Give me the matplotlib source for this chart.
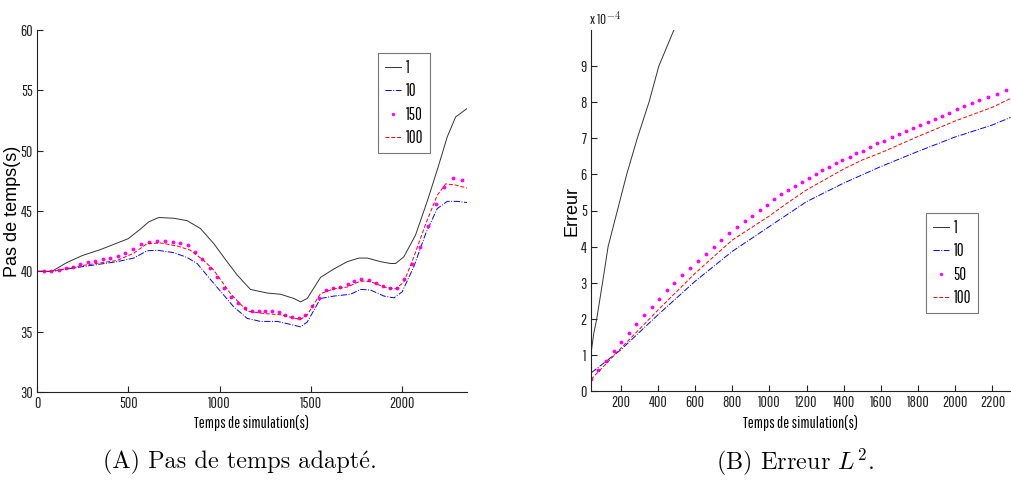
import matplotlib
matplotlib.use("Agg")
import matplotlib.pyplot as plt
from matplotlib import font_manager as fm
from matplotlib.font_manager import FontProperties
from matplotlib.textpath import TextPath

# ---------------- data: panel A (Pas de temps) ----------------
a_x_1 = [0, 82, 160, 247, 347, 448, 499, 566, 612, 667, 749, 822, 895, 968, 1041, 1096,
         1169, 1261, 1334, 1407, 1443, 1480, 1553, 1626, 1699, 1763, 1809, 1882, 1936,
         1964, 2009, 2073, 2137, 2192, 2247, 2293, 2356]
a_y_1 = [40.0, 40.0, 40.7, 41.3, 41.8, 42.4, 42.7, 43.5, 44.1, 44.46, 44.4, 44.2, 43.55,
         42.3, 40.8, 39.7, 38.5, 38.2, 38.1, 37.75, 37.47, 37.75, 39.5, 40.2, 40.8, 41.1,
         41.1, 40.8, 40.65, 40.65, 41.2, 43.0, 45.8, 48.4, 51.15, 52.8, 53.5]

a_x_10 = [0, 82, 256, 438, 530, 603, 658, 749, 822, 877, 968, 1078, 1151, 1224, 1316, 1389,
          1443, 1480, 1553, 1626, 1717, 1772, 1827, 1900, 1955, 2000, 2064, 2128, 2192, 2247,
          2302, 2356]
a_y_10 = [40.0, 40.0, 40.4, 40.8, 41.1, 41.7, 41.75, 41.55, 41.15, 40.65, 39.0, 37.05, 36.1,
          35.85, 35.85, 35.6, 35.4, 35.8, 37.75, 37.95, 38.1, 38.5, 38.45, 37.95, 37.8, 38.3,
          40.4, 43.1, 45.2, 45.8, 45.8, 45.7]

a_x_100 = [0, 82, 256, 438, 530, 603, 676, 768, 840, 913, 968, 1060, 1151, 1243, 1334, 1389,
           1443, 1480, 1553, 1626, 1699, 1772, 1827, 1900, 1964, 2009, 2064, 2128, 2192, 2238,
           2293, 2356]
a_y_100 = [40.0, 40.0, 40.5, 40.9, 41.5, 42.3, 42.35, 42.1, 41.75, 40.9, 40.1, 38.15, 36.7,
           36.5, 36.4, 36.2, 36.0, 36.4, 38.15, 38.55, 38.7, 39.2, 39.15, 38.7, 38.55, 39.1,
           41.2, 43.9, 46.3, 47.25, 47.15, 46.9]

a_x_150 = [36, 77, 118, 159, 197, 237, 279, 319, 361, 401, 443, 484, 526, 569, 611, 655, 699,
           743, 783, 825, 867, 906, 949, 986, 1026, 1064, 1101, 1141, 1177, 1214, 1250, 1287,
           1323, 1360, 1396, 1433, 1469, 1506, 1546, 1584, 1621, 1661, 1701, 1738, 1776, 1820,
           1858, 1895, 1931, 1972, 2012, 2054, 2095, 2139, 2185, 2231, 2280, 2328]
a_y_150 = [40.0, 40.0, 40.1, 40.27, 40.38, 40.6, 40.74, 40.85, 40.99, 41.09, 41.26, 41.48,
           41.84, 42.26, 42.45, 42.53, 42.48, 42.4, 42.31, 42.17, 41.62, 41.04, 40.29, 39.49,
           38.63, 37.89, 37.34, 36.92, 36.73, 36.7, 36.7, 36.7, 36.64, 36.42, 36.23, 36.14,
           36.37, 37.11, 37.83, 38.44, 38.6, 38.72, 38.91, 39.19, 39.33, 39.27, 39.0, 38.8,
           38.66, 38.66, 39.35, 40.57, 42.03, 43.75, 45.55, 47.01, 47.7, 47.56]

a_xticks = [0, 500, 1000, 1500, 2000]
a_yticks = [30, 35, 40, 45, 50, 55, 60]
a_labels = ["1", "10", "150", "100"]

# ---------------- data: panel B (Erreur, x 1e-4) ----------------
b_x_1 = [43, 55, 71, 102, 132, 182, 232, 289, 352, 405, 486]
b_y_1 = [1.15, 1.6, 2.0, 3.0, 4.0, 5.0, 6.0, 7.0, 8.0, 9.0, 10.0]

b_x_10 = [43, 200, 398, 598, 798, 998, 1198, 1396, 1596, 1796, 1996, 2200, 2298]
b_y_10 = [0.51, 1.14, 2.1, 3.03, 3.86, 4.55, 5.24, 5.75, 6.21, 6.63, 7.03, 7.37, 7.58]

b_x_100 = [40, 200, 400, 600, 800, 1000, 1100, 1200, 1400, 1500, 1600, 1800, 2000, 2200, 2300]
b_y_100 = [0.32, 1.18, 2.24, 3.26, 4.18, 4.85, 5.22, 5.57, 6.15, 6.4, 6.6, 7.05, 7.48, 7.86, 8.11]

b_x_50 = [39, 80, 123, 164, 204, 245, 284, 325, 366, 407, 448, 489, 530, 571, 614, 657, 700,
          741, 784, 825, 868, 907, 948, 989, 1027, 1064, 1102, 1139, 1175, 1213, 1250, 1284,
          1320, 1357, 1393, 1431, 1468, 1504, 1539, 1578, 1618, 1657, 1696, 1736, 1775, 1813,
          1854, 1893, 1929, 1968, 2007, 2048, 2090, 2130, 2177, 2225, 2272]
b_y_50 = [0.32, 0.58, 0.83, 1.11, 1.37, 1.62, 1.86, 2.11, 2.33, 2.55, 2.79, 2.99, 3.2, 3.41,
          3.61, 3.8, 4.0, 4.18, 4.37, 4.53, 4.71, 4.86, 5.01, 5.16, 5.31, 5.45, 5.56, 5.68, 5.8,
          5.91, 6.01, 6.11, 6.21, 6.31, 6.4, 6.49, 6.58, 6.66, 6.77, 6.86, 6.93, 7.03, 7.12,
          7.19, 7.29, 7.37, 7.46, 7.53, 7.63, 7.71, 7.8, 7.89, 7.97, 8.06, 8.15, 8.23, 8.34]

b_xticks = [200, 400, 600, 800, 1000, 1200, 1400, 1600, 1800, 2000, 2200]
b_yticks = [0, 1, 2, 3, 4, 5, 6, 7, 8, 9]
b_labels = ["1", "10", "50", "100"]

# ---------------- fonts ----------------
avail = set(f.name for f in fm.fontManager.ttflist)
def pick(cands, default):
    for c in cands:
        if c in avail:
            return c
    return default

sans = pick(["Pathway Gothic One", "Liberation Sans Narrow", "Arial Narrow",
             "Fira Sans Extra Condensed", "Barlow Condensed", "PT Sans Narrow",
             "Archivo Narrow", "Roboto Condensed"], "Liberation Sans")
wide = pick(["Liberation Sans", "Arimo", "Arial"], "DejaVu Sans")
serif = pick(["CMU Serif", "Latin Modern Roman", "cmr10"], "DejaVu Serif")

def fit_size(text, target_px, family):
    # font size (pt) so that `text` is target_px wide at 100 dpi
    tp = TextPath((0, 0), text, size=10, prop=FontProperties(family=family))
    w = tp.get_extents().width
    return 10 * (target_px * 0.72) / w

tick_fs = min(fit_size("2000", 24, sans), 14)
xlab_fs = min(fit_size("Temps de simulation(s)", 113, sans), 13)
leg_fs = min(fit_size("150", 17, sans), 12)

plt.rcParams["font.family"] = [sans, "DejaVu Sans"]
plt.rcParams["mathtext.fontset"] = "cm"
plt.rcParams["axes.unicode_minus"] = False

fig = plt.figure(figsize=(10.12, 4.82), dpi=100)
W, H = 1012, 482
axA = fig.add_axes([37 / W, 1 - 392 / H, 430 / W, 362 / H])
axB = fig.add_axes([591 / W, 1 - 391 / H, 420 / W, 361 / H])

c_black = "#333333"
c_blue = "#0000ff"
c_red = "#ff0000"
c_mag = "#ff00ff"
lw = 0.7

def style(ax):
    for s in ["top", "right"]:
        ax.spines[s].set_visible(False)
    for s in ["left", "bottom"]:
        ax.spines[s].set_linewidth(0.8)
        ax.spines[s].set_color("#222222")
    ax.tick_params(direction="in", length=4, width=0.8, labelsize=tick_fs,
                   colors="#222222", pad=3)

leg_kw = dict(fontsize=leg_fs, frameon=True, fancybox=False, edgecolor="#555555",
              handlelength=1.0, handletextpad=0.25, borderpad=0.4, labelspacing=0.45,
              borderaxespad=0, markerscale=0.8)

# Panel A
axA.plot(a_x_1, a_y_1, color=c_black, lw=lw, ls="-", label=a_labels[0])
axA.plot(a_x_10, a_y_10, color=c_blue, lw=lw, ls="-.", label=a_labels[1])
axA.plot(a_x_150, a_y_150, color=c_mag, ls="none", marker=".", ms=3.5, label=a_labels[2])
axA.plot(a_x_100, a_y_100, color=c_red, lw=lw, ls="--", dashes=(4, 2), label=a_labels[3])
axA.set_xlim(0, 2355)
axA.set_ylim(30, 60)
axA.set_xticks(a_xticks)
axA.set_yticks(a_yticks)
style(axA)
axA.set_xlabel("Temps de simulation(s)", fontsize=xlab_fs)
axA.xaxis.set_label_coords(0.5, -(415 - 392) / 362)
axA.set_ylabel("Pas de temps(s)", fontsize=13, family=[wide, "DejaVu Sans"])
axA.yaxis.set_label_coords((21 - 37) / 430, 0.5)
legA = axA.legend(loc="upper left", bbox_to_anchor=(341 / 430, 1 - 23 / 362), **leg_kw)
legA.get_frame().set_linewidth(0.8)

# Panel B
axB.plot(b_x_1, b_y_1, color=c_black, lw=lw, ls="-", label=b_labels[0])
axB.plot(b_x_10, b_y_10, color=c_blue, lw=lw, ls="-.", label=b_labels[1])
axB.plot(b_x_50, b_y_50, color=c_mag, ls="none", marker=".", ms=3.5, label=b_labels[2])
axB.plot(b_x_100, b_y_100, color=c_red, lw=lw, ls="--", dashes=(4, 2), label=b_labels[3])
axB.set_xlim(40, 2300)
axB.set_ylim(0, 10)
axB.set_xticks(b_xticks)
axB.set_yticks(b_yticks)
style(axB)
axB.set_xlabel("Temps de simulation(s)", fontsize=xlab_fs)
axB.xaxis.set_label_coords(0.5, -(415 - 391) / 361)
axB.set_ylabel("Erreur", fontsize=13, family=[wide, "DejaVu Sans"])
axB.yaxis.set_label_coords((581 - 591) / 420, 0.5)
axB.text(-0.005, 1.005, r"x 10$^{-4}$", transform=axB.transAxes, ha="left", va="bottom",
         fontsize=10.5, color="#222222")
legB = axB.legend(loc="upper left", bbox_to_anchor=(335 / 420, 1 - 183 / 361), **leg_kw)
legB.get_frame().set_linewidth(0.8)

# Captions
fig.text(240 / W, 1 - 462 / H, "(A) Pas de temps adapté.", ha="center", va="center",
         fontsize=17.5, family=[serif, "DejaVu Serif"])
fig.text(795 / W, 1 - 462 / H, r"(B) Erreur $L^2$.", ha="center", va="center",
         fontsize=17.5, family=[serif, "DejaVu Serif"])

fig.savefig("out.png", dpi=100)
